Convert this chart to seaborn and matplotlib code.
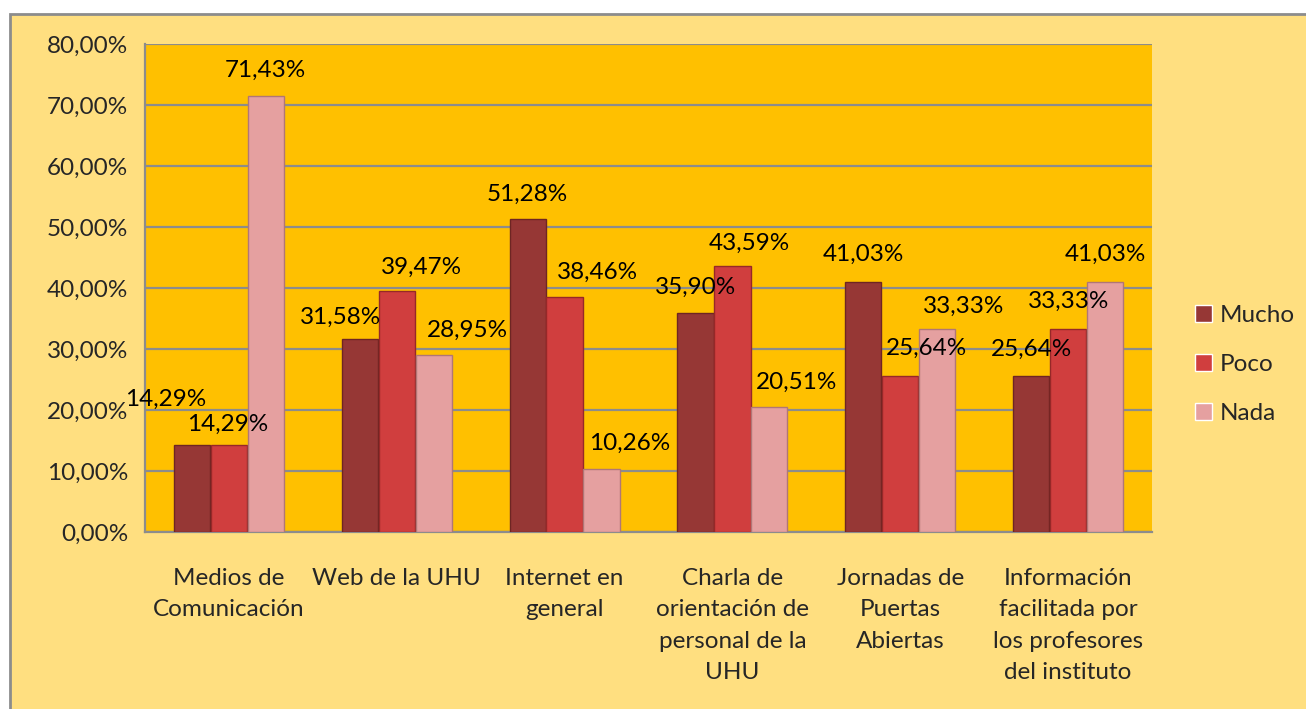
import matplotlib
matplotlib.use("Agg")
import matplotlib.pyplot as plt
import matplotlib.patches as patches
from matplotlib.ticker import FuncFormatter, FixedLocator
import pandas as pd
import seaborn as sns

# Data
categories = [
    "Medios de\nComunicación",
    "Web de la UHU",
    "Internet en\ngeneral",
    "Charla de\norientación de\npersonal de la\nUHU",
    "Jornadas de\nPuertas\nAbiertas",
    "Información\nfacilitada por\nlos profesores\ndel instituto",
]
series = ["Mucho", "Poco", "Nada"]
mucho = [14.29, 31.58, 51.28, 35.90, 41.03, 25.64]
poco = [14.29, 39.47, 38.46, 43.59, 25.64, 33.33]
nada = [71.43, 28.95, 10.26, 20.51, 33.33, 41.03]

colors = ["#963735", "#D03E3E", "#E5A0A0"]
edges = ["#6E2523", "#962828", "#B07676"]

# label offsets (pixels) to mimic the original label placement
label_dx = [[-26, -19, 0, 0, 0, 0], [-1, 25, 33, 17, 26, 1], [0, 34, 28, 27, 26, 0]]
label_dy = [[45, 22, 25, 26, 27, 26], [20, 24, 25, 23, 27, 27], [26, 25, 26, 25, 22, 27]]

df = pd.DataFrame({
    "categoria": categories * 3,
    "serie": [s for s in series for _ in categories],
    "valor": mucho + poco + nada,
})

FS = 17.5
sns.set_style("white")
plt.rcParams["font.family"] = ["Lato", "DejaVu Sans"]
plt.rcParams["font.size"] = FS

fig = plt.figure(figsize=(13.06, 7.09), dpi=100)
fig.patch.set_facecolor("white")
W, H = 1306, 709
fig.patches.append(patches.Rectangle((10 / W, -0.05), 1.05, (H - 14) / H + 0.05,
                                     transform=fig.transFigure, facecolor="#FFDF80",
                                     edgecolor="#8C8C8C", linewidth=2, zorder=-10))

ax = fig.add_axes([145 / W, (H - 532) / H, (1152 - 145) / W, (532 - 44) / H])
ax.set_facecolor("#FFC000")

sns.barplot(data=df, x="categoria", y="valor", hue="serie", hue_order=series,
            palette=colors, saturation=1, width=0.66, gap=0.02, ax=ax, zorder=3)

for i, cont in enumerate(ax.containers):
    for j, bar in enumerate(cont):
        bar.set_edgecolor(edges[i])
        bar.set_linewidth(1)
        v = bar.get_height()
        ax.annotate(f"{v:.2f}".replace(".", ",") + "%",
                    xy=(bar.get_x() + bar.get_width() / 2, v),
                    xytext=(label_dx[i][j], label_dy[i][j]), textcoords="offset pixels",
                    ha="center", va="center", fontsize=FS, color="black", zorder=5)

ax.set_xlim(-0.5, 5.5)
ax.set_ylim(0, 80)
ax.set_yticks(range(0, 81, 10))
ax.yaxis.set_major_formatter(FuncFormatter(lambda v, p: f"{v:.2f}".replace(".", ",") + "%"))
ax.grid(axis="y", color="#8C8C8C", linewidth=1.6, zorder=1)
ax.set_axisbelow(True)

ax.set_xticks(range(len(categories)))
ax.set_xticklabels(categories, linespacing=1.6)
ax.xaxis.set_minor_locator(FixedLocator([k - 0.5 for k in range(len(categories) + 1)]))
ax.tick_params(axis="x", which="major", length=0, pad=26, labelsize=FS)
ax.tick_params(axis="x", which="minor", length=7, color="#8C8C8C", width=1.5, direction="out")
ax.tick_params(axis="y", length=7, color="#8C8C8C", width=1.5, direction="out", pad=5, labelsize=FS)

for s in ["top", "right"]:
    ax.spines[s].set_visible(False)
for s in ["left", "bottom"]:
    ax.spines[s].set_color("#8C8C8C")
    ax.spines[s].set_linewidth(1.6)

ax.set_xlabel("")
ax.set_ylabel("")
ax.legend(title=None, loc="center left", bbox_to_anchor=(1.0427, 0.344), frameon=False,
          borderaxespad=0, borderpad=0,
          handlelength=0.7, handleheight=0.7, handletextpad=0.3, labelspacing=1.15, fontsize=FS)

fig.savefig("out.png", dpi=100)
